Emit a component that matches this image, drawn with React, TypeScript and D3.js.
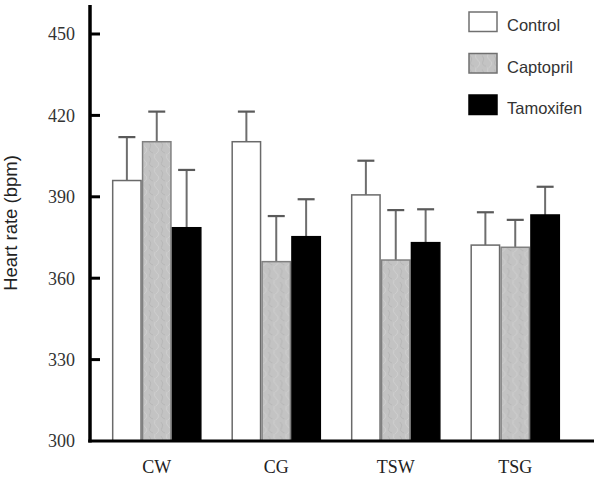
import React from "react";
import * as d3 from "d3";

const categories = ["CW", "CG", "TSW", "TSG"];
const seriesNames = ["Control", "Captopril", "Tamoxifen"];
const controlMean = [396, 410.3, 390.7, 372.2];
const controlErr = [16, 11.1, 12.6, 12.1];
const captoprilMean = [410.3, 366.1, 366.7, 371.4];
const captoprilErr = [11.1, 16.8, 18.4, 10.1];
const tamoxifenMean = [378.6, 375.3, 373.1, 383.3];
const tamoxifenErr = [21.3, 13.8, 12.3, 10.4];
const yTicks = [300, 330, 360, 390, 420, 450];

const W = 601;
const H = 479;

const fills = ["#ffffff", "#c3c3c3", "#000000"];
const strokes = ["#6a6a6a", "#808080", "#000000"];

export default function App() {
  const y = d3.scaleLinear().domain([300, 450]).range([441, 34]);
  const x0 = d3
    .scaleBand<string>()
    .domain(categories)
    .range([97, 575])
    .paddingInner(0.25)
    .paddingOuter(0.125);
  const x1 = d3
    .scaleBand<string>()
    .domain(seriesNames)
    .range([0, x0.bandwidth()]);

  const means = [controlMean, captoprilMean, tamoxifenMean];
  const errs = [controlErr, captoprilErr, tamoxifenErr];

  const axisX = 90;
  const axisY = y(300);

  return (
    <svg
      width={W}
      height={H}
      style={{ position: "absolute", left: 0, top: 0, background: "#fff" }}
    >
      <defs>
        <pattern id="capto" width="12" height="14" patternUnits="userSpaceOnUse">
          <rect width="12" height="14" fill="#c3c3c3" />
          <path d="M1 2 q3 3 1 6 t3 5" stroke="#b3b3b3" strokeWidth="0.8" fill="none" />
          <path d="M7 0 q-2 4 2 7 t-1 7" stroke="#d2d2d2" strokeWidth="0.8" fill="none" />
        </pattern>
      </defs>

      {/* bars */}
      {categories.map((c, ci) => (
        <g key={c} transform={`translate(${x0(c)},0)`}>
          {seriesNames.map((s, si) => {
            const v = means[si][ci];
            const e = errs[si][ci];
            const bx = x1(s)!;
            const bw = x1.bandwidth();
            const cx = bx + bw / 2;
            return (
              <g key={s}>
                <line
                  x1={cx}
                  x2={cx}
                  y1={y(v)}
                  y2={y(v + e)}
                  stroke="#6e6e6e"
                  strokeWidth={2}
                />
                <line
                  x1={cx - 8.5}
                  x2={cx + 8.5}
                  y1={y(v + e)}
                  y2={y(v + e)}
                  stroke="#5a5a5a"
                  strokeWidth={2.2}
                />
                <rect
                  x={bx + 0.75}
                  y={y(v)}
                  width={bw - 1.5}
                  height={axisY - y(v)}
                  fill={si === 1 ? "url(#capto)" : fills[si]}
                  stroke={strokes[si]}
                  strokeWidth={1.5}
                />
              </g>
            );
          })}
        </g>
      ))}

      {/* y axis */}
      <line x1={axisX} x2={axisX} y1={5} y2={axisY + 1.5} stroke="#000" strokeWidth={3.5} />
      {yTicks.slice(1).map((t) => (
        <line key={t} x1={axisX} x2={axisX + 10} y1={y(t)} y2={y(t)} stroke="#000" strokeWidth={3} />
      ))}
      {yTicks.map((t) => (
        <text
          key={t}
          x={75}
          y={y(t)}
          dy="0.35em"
          textAnchor="end"
          fontFamily="Liberation Serif, serif"
          fontSize={18}
          fill="#333"
        >
          {t}
        </text>
      ))}
      <text
        transform={`translate(16.5,${223}) rotate(-90)`}
        textAnchor="middle"
        fontFamily="Liberation Sans, Arial, sans-serif"
        fontSize={18.5}
        fill="#222"
      >
        Heart rate (bpm)
      </text>

      {/* x axis */}
      <line x1={axisX - 1.75} x2={594} y1={axisY} y2={axisY} stroke="#000" strokeWidth={3} />
      {categories.map((c) => (
        <text
          key={c}
          x={x0(c)! + x0.bandwidth() / 2}
          y={473}
          textAnchor="middle"
          fontFamily="Liberation Serif, serif"
          fontSize={18}
          fill="#222"
        >
          {c}
        </text>
      ))}

      {/* legend */}
      {seriesNames.map((s, i) => (
        <g key={s} transform={`translate(469,${12 + i * 41.5})`}>
          <rect
            x={0}
            y={0}
            width={28}
            height={19.5}
            fill={i === 1 ? "url(#capto)" : fills[i]}
            stroke={i === 2 ? "#000" : "#707070"}
            strokeWidth={1.5}
          />
          <text
            x={38}
            y={13.5}
            dy="0.35em"
            fontFamily="Liberation Sans, Arial, sans-serif"
            fontSize={16.5}
            fill="#333"
          >
            {s}
          </text>
        </g>
      ))}
    </svg>
  );
}
